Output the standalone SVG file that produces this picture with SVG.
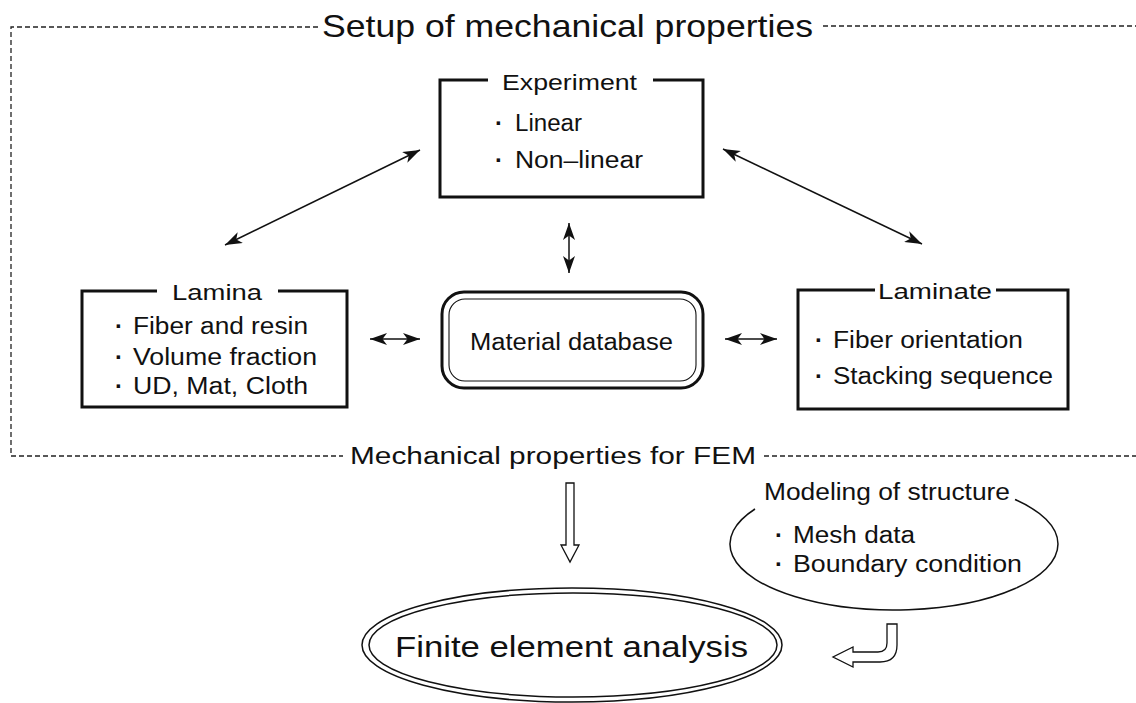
<svg xmlns="http://www.w3.org/2000/svg" width="1136" height="703" viewBox="0 0 1136 703">
<style>
text{font-family:"Liberation Sans",Arial,sans-serif;fill:#111;}
.t22{font-size:22px;}
.t23{font-size:23px;}
.dot{font-size:24px;text-anchor:middle;font-weight:bold;}
.frame{fill:none;stroke:#222;stroke-width:1.3;stroke-dasharray:5 3;}
.box{fill:none;stroke:#111;stroke-width:3;}
.conn{fill:none;stroke:#111;stroke-width:1.5;marker-start:url(#ah);marker-end:url(#ah);}
.thin{fill:none;stroke:#111;stroke-width:1.5;}
.hollow{fill:#fff;stroke:#111;stroke-width:1.3;stroke-linejoin:miter;}
</style>
<defs>
<marker id="ah" viewBox="0 -6 17 12" refX="17" refY="0" markerWidth="17" markerHeight="12" markerUnits="userSpaceOnUse" orient="auto-start-reverse">
<path d="M17,0 L0,-6 L4.5,0 L0,6 Z" fill="#111"/>
</marker>
</defs>
<rect width="1136" height="703" fill="#fff"/>

<g id="frame">
<path class="frame" d="M318,27 H11 V456 H343"/>
<path class="frame" d="M823,26 H1136"/>
<path class="frame" d="M764,456 H1136"/>
<text x="322" y="37" style="font-size:32px" textLength="491" lengthAdjust="spacingAndGlyphs">Setup of mechanical properties</text>
<text x="350" y="464" class="t23" textLength="406" lengthAdjust="spacingAndGlyphs">Mechanical properties for FEM</text>
</g>

<g id="experiment">
<path class="box" d="M488,80 H440 V197 H703 V80 H653"/>
<text x="502" y="90" class="t22" textLength="135" lengthAdjust="spacingAndGlyphs">Experiment</text>
<text x="499" y="131" class="dot">·</text>
<text x="515" y="131" class="t23" textLength="67" lengthAdjust="spacingAndGlyphs">Linear</text>
<text x="499" y="168" class="dot">·</text>
<text x="515" y="168" class="t23" textLength="128" lengthAdjust="spacingAndGlyphs">Non–linear</text>
</g>

<g id="lamina">
<path class="box" d="M157,291 H82 V407 H347 V291 H278"/>
<text x="172" y="300" class="t22" textLength="90" lengthAdjust="spacingAndGlyphs">Lamina</text>
<text x="119" y="334" class="dot">·</text>
<text x="133" y="334" class="t23" textLength="175" lengthAdjust="spacingAndGlyphs">Fiber and resin</text>
<text x="119" y="365" class="dot">·</text>
<text x="133" y="365" class="t23" textLength="184" lengthAdjust="spacingAndGlyphs">Volume fraction</text>
<text x="119" y="394" class="dot">·</text>
<text x="133" y="394" class="t23" textLength="175" lengthAdjust="spacingAndGlyphs">UD, Mat, Cloth</text>
</g>

<g id="database">
<rect class="box" x="442" y="292" width="261" height="96" rx="22"/>
<rect fill="none" stroke="#111" stroke-width="1.1" x="449" y="299" width="247" height="82" rx="16"/>
<text x="470" y="350" class="t23" textLength="203" lengthAdjust="spacingAndGlyphs">Material database</text>
</g>

<g id="laminate">
<path class="box" d="M875,290 H798 V409 H1068 V290 H996"/>
<text x="878" y="299" class="t22" textLength="114" lengthAdjust="spacingAndGlyphs">Laminate</text>
<text x="819" y="348" class="dot">·</text>
<text x="833" y="348" class="t23" textLength="190" lengthAdjust="spacingAndGlyphs">Fiber orientation</text>
<text x="819" y="384" class="dot">·</text>
<text x="833" y="384" class="t23" textLength="220" lengthAdjust="spacingAndGlyphs">Stacking sequence</text>
</g>

<g id="modeling">
<path class="thin" d="M755,509 A164 66 0 1 0 1015,499.5"/>
<text x="764" y="500" class="t23" textLength="246" lengthAdjust="spacingAndGlyphs">Modeling of structure</text>
<text x="779" y="543" class="dot">·</text>
<text x="793" y="543" class="t23" textLength="122" lengthAdjust="spacingAndGlyphs">Mesh data</text>
<text x="779" y="572" class="dot">·</text>
<text x="793" y="572" class="t23" textLength="229" lengthAdjust="spacingAndGlyphs">Boundary condition</text>
</g>

<g id="fea">
<ellipse class="thin" cx="572" cy="645" rx="210" ry="57"/>
<ellipse class="thin" cx="573" cy="645" rx="204" ry="52" stroke-width="1.2"/>
<text x="395" y="657" style="font-size:30px" textLength="353" lengthAdjust="spacingAndGlyphs">Finite element analysis</text>
</g>

<g id="connectors">
<line class="conn" x1="225" y1="245" x2="420" y2="150"/>
<line class="conn" x1="723" y1="149" x2="922" y2="244"/>
<line class="conn" x1="569" y1="223" x2="569" y2="273"/>
<line class="conn" x1="370" y1="339" x2="420" y2="339"/>
<line class="conn" x1="725" y1="339" x2="777" y2="339"/>
<path class="hollow" d="M566,483 V545 H561 L570,562 L579,545 H574 V483 Z"/>
<path class="hollow" d="M887,624 V643 Q887,652 878,652 H853 V647 L833,657 L853,667 V662 H880 Q897,662 897,645 V624 Z"/>
</g>
</svg>
